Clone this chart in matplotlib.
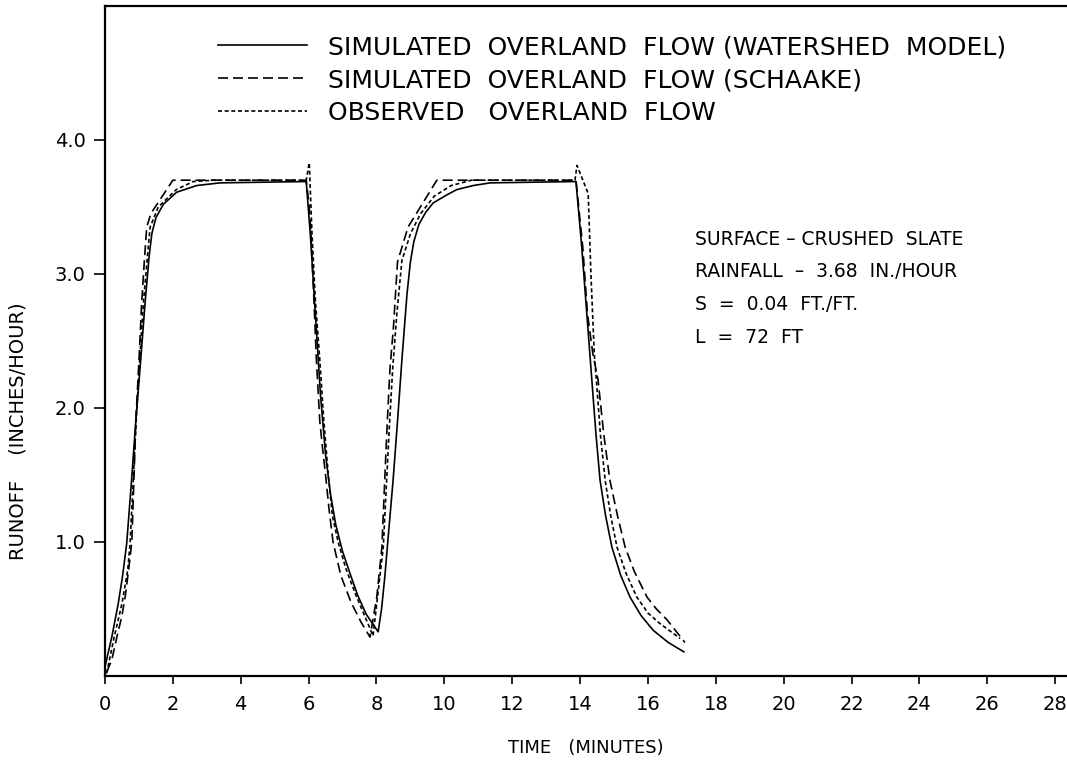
import numpy as np
import matplotlib
matplotlib.use("Agg")
import matplotlib.pyplot as plt

# time (minutes) / runoff (in/hr)
t_ws = [0.0, 0.2, 0.39, 0.52, 0.64, 0.78, 0.91, 1.05, 1.18, 1.30, 1.38, 1.5, 1.72, 2.11, 2.7, 3.39, 5.93,
        6.05, 6.2, 6.35, 6.5, 6.65, 6.8, 7.0, 7.2, 7.45, 7.7, 8.05,
        8.15, 8.25, 8.35, 8.49, 8.62, 8.75, 8.9, 9.0, 9.1, 9.25, 9.45, 9.67, 10.07, 10.37, 10.85, 11.35, 13.88,
        14.05, 14.2, 14.35, 14.47, 14.59, 14.75, 14.94, 15.2, 15.47, 15.8, 16.16, 16.6, 17.06]
q_ws = [0.07, 0.29, 0.54, 0.75, 0.99, 1.45, 1.91, 2.35, 2.78, 3.13, 3.3, 3.42, 3.52, 3.61, 3.66, 3.68, 3.69,
        3.3, 2.7, 2.1, 1.65, 1.35, 1.13, 0.93, 0.78, 0.6, 0.46, 0.33,
        0.5, 0.75, 1.05, 1.46, 1.9, 2.36, 2.85, 3.09, 3.24, 3.37, 3.46, 3.53, 3.59, 3.63, 3.66, 3.68, 3.69,
        3.2, 2.7, 2.2, 1.8, 1.46, 1.2, 0.96, 0.75, 0.59, 0.45, 0.34, 0.25, 0.18]

t_sch = [0.05, 0.2, 0.35, 0.5, 0.6, 0.7, 0.79, 0.85, 0.91, 1.0, 1.08, 1.16, 1.23, 1.35, 2.0, 5.93,
         6.02, 6.06, 6.15, 6.23, 6.33, 6.42, 6.5, 6.6, 6.72, 6.95, 7.25, 7.55, 7.81,
         8.01, 8.16, 8.25, 8.32, 8.4, 8.5, 8.62, 8.93, 9.78, 13.88,
         14.08, 14.22, 14.38, 14.53, 14.7, 14.88, 15.1, 15.33, 15.6, 15.97, 16.25, 16.56, 17.09]
q_sch = [0.03, 0.12, 0.29, 0.45, 0.6, 0.8, 1.0, 1.45, 1.91, 2.35, 2.78, 3.1, 3.35, 3.45, 3.70, 3.70,
         3.5, 3.35, 2.85, 2.36, 1.9, 1.68, 1.5, 1.25, 1.0, 0.75, 0.55, 0.4, 0.29,
         0.59, 0.96, 1.5, 1.9, 2.3, 2.6, 3.09, 3.35, 3.70, 3.70,
         3.2, 2.7, 2.4, 2.21, 1.8, 1.46, 1.2, 0.96, 0.78, 0.59, 0.5, 0.42, 0.25]

t_obs = [0.05, 0.27, 0.5, 0.67, 0.74, 0.83, 0.92, 1.02, 1.13, 1.25, 1.33, 1.57, 2.1, 2.6, 3.2, 5.93,
         6.02, 6.1, 6.2, 6.33, 6.45, 6.58, 6.7, 6.87, 7.1, 7.4, 7.65, 7.9,
         8.2, 8.3, 8.38, 8.48, 8.6, 8.75, 9.0, 9.3, 9.7, 10.2, 10.8, 13.85,
         13.91, 14.24, 14.32, 14.42, 14.48, 14.6, 14.74, 14.9, 15.09, 15.35, 15.67, 16.0, 16.36, 16.95]
q_obs = [0.02, 0.29, 0.54, 0.79, 0.99, 1.45, 1.91, 2.35, 2.78, 3.13, 3.35, 3.50, 3.63, 3.69, 3.70, 3.70,
         3.83, 3.3, 2.8, 2.36, 1.9, 1.5, 1.2, 1.0, 0.8, 0.6, 0.45, 0.3,
         0.96, 1.46, 1.86, 2.3, 2.7, 3.1, 3.3, 3.45, 3.58, 3.66, 3.70, 3.70,
         3.81, 3.60, 3.0, 2.4, 2.21, 1.8, 1.46, 1.2, 0.96, 0.77, 0.59, 0.47, 0.39, 0.28]

labels = ['SIMULATED  OVERLAND  FLOW (WATERSHED  MODEL)',
          'SIMULATED  OVERLAND  FLOW (SCHAAKE)',
          'OBSERVED   OVERLAND  FLOW']
notes = ['SURFACE \u2013 CRUSHED  SLATE',
         'RAINFALL  \u2013  3.68  IN./HOUR',
         'S  =  0.04  FT./FT.',
         'L  =  72  FT']
xticks = np.arange(0, 29, 2)
yticks = [1.0, 2.0, 3.0, 4.0]

plt.rcParams['font.family'] = 'DejaVu Sans'
fig = plt.figure(figsize=(10.67, 7.68), dpi=100)
ax = fig.add_axes([0.0984, 0.1198, 0.9016, 0.8724])

ax.plot(t_ws, q_ws, color='k', lw=1.2, ls='-', label=labels[0])
ax.plot(t_sch, q_sch, color='k', lw=1.2, ls=(0, (6, 3)), label=labels[1])
ax.plot(t_obs, q_obs, color='k', lw=1.2, ls=(0, (2.4, 1.6)), label=labels[2])

ax.set_xlim(0, 28.35)
ax.set_ylim(0, 5.0)
ax.spines['right'].set_visible(False)
for s in ['left', 'bottom', 'top']:
    ax.spines[s].set_linewidth(1.6)
ax.set_xticks(xticks)
ax.set_xticklabels([str(v) for v in xticks])
ax.set_yticks(yticks)
ax.set_yticklabels(['%.1f' % v for v in yticks])
ax.tick_params(axis='x', direction='out', length=6, width=1.2, labelsize=14, pad=8)
ax.tick_params(axis='y', direction='out', length=8, width=1.2, labelsize=14, pad=6)

ax.set_xlabel('TIME   (MINUTES)', fontsize=13, labelpad=18)
ax.set_ylabel('RUNOFF    (INCHES/HOUR)', fontsize=14)
ax.yaxis.set_label_coords(-0.081, 0.366)

ax.legend(loc='upper left', bbox_to_anchor=(0.094, 0.99), frameon=False, fontsize=18,
          handlelength=3.56, handletextpad=0.84, labelspacing=0.36)

for i, n in enumerate(notes):
    ax.text(0.613, 0.652 - i * 0.049, n, transform=ax.transAxes, fontsize=13.5, va='center')

fig.savefig('out.png', dpi=100)
